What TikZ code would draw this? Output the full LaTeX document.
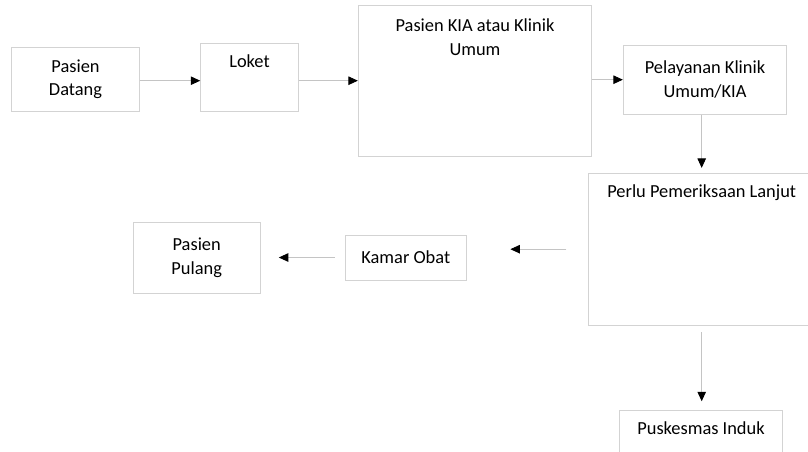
\documentclass[tikz,border=0pt]{standalone}
\usepackage{fontspec}
\setmainfont{Carlito}
\usetikzlibrary{arrows.meta}
\definecolor{tepi}{HTML}{D3D3D3}
\definecolor{garis}{HTML}{C4C4C4}
\begin{document}
\begin{tikzpicture}[x=1pt, y=-1pt,
  font=\fontsize{18.4}{23.5}\selectfont,
  kotak/.style={draw=tepi, line width=0.9pt, align=center, inner sep=0pt},
  judul/.style={anchor=north, align=center, inner sep=0pt, yshift=-11.5pt},
  panah/.style={draw=garis, line width=0.9pt, -{Triangle[black, length=9.5pt, width=8.5pt]}}]

\useasboundingbox (0,0) rectangle (808,452);

% kotak-kotak alur
\node[kotak, minimum width=127.6, minimum height=63.7] (datang) at (75.5,79.2) {Pasien\\Datang};
\node[kotak, minimum width=97.6, minimum height=67.7, label={[judul]north:Loket}] (loket) at (249.5,77.2) {};
\node[kotak, minimum width=233.4, minimum height=150.7, label={[judul, yshift=-2pt]north:Pasien KIA atau Klinik\\Umum}] (kia) at (475,81.3) {};
\node[kotak, minimum width=163.4, minimum height=69.3] (pelayanan) at (705,79.7) {Pelayanan Klinik\\Umum/KIA};
\node[kotak, minimum width=226.7, minimum height=151.7, label={[judul]north:Perlu Pemeriksaan Lanjut}] (perlu) at (701.7,249.2) {};
\node[kotak, minimum width=121.7, minimum height=45] (kamar) at (405.8,257.5) {Kamar Obat};
\node[kotak, minimum width=126.7, minimum height=71] (pulang) at (196.7,257.8) {Pasien\\Pulang};
\node[kotak, minimum width=163.4, minimum height=69, label={[judul]north:Puskesmas Induk}] (puskesmas) at (701,444.5) {};

% panah
\draw[panah] ([yshift=-1.5pt]datang.east) -- ([yshift=-1.5pt]datang.east -| loket.west);
\draw[panah] ([yshift=-3.5pt]loket.east) -- ([yshift=-3.5pt]loket.east -| kia.west);
\draw[panah] (pelayanan.west -| kia.east) -- (pelayanan.west);
\draw[panah, shorten >=5pt] (perlu.north |- pelayanan.south) -- (perlu.north);
\draw[panah, shorten <=21.6pt, shorten >=43.3pt] (perlu.west) -- (perlu.west -| kamar.east);
\draw[panah, shorten <=10pt, shorten >=18.3pt] (kamar.west) -- (kamar.west -| pulang.east);
\draw[panah, shorten <=6.7pt, shorten >=8.3pt] (perlu.south) -- (perlu.south |- puskesmas.north);

\end{tikzpicture}
\end{document}
